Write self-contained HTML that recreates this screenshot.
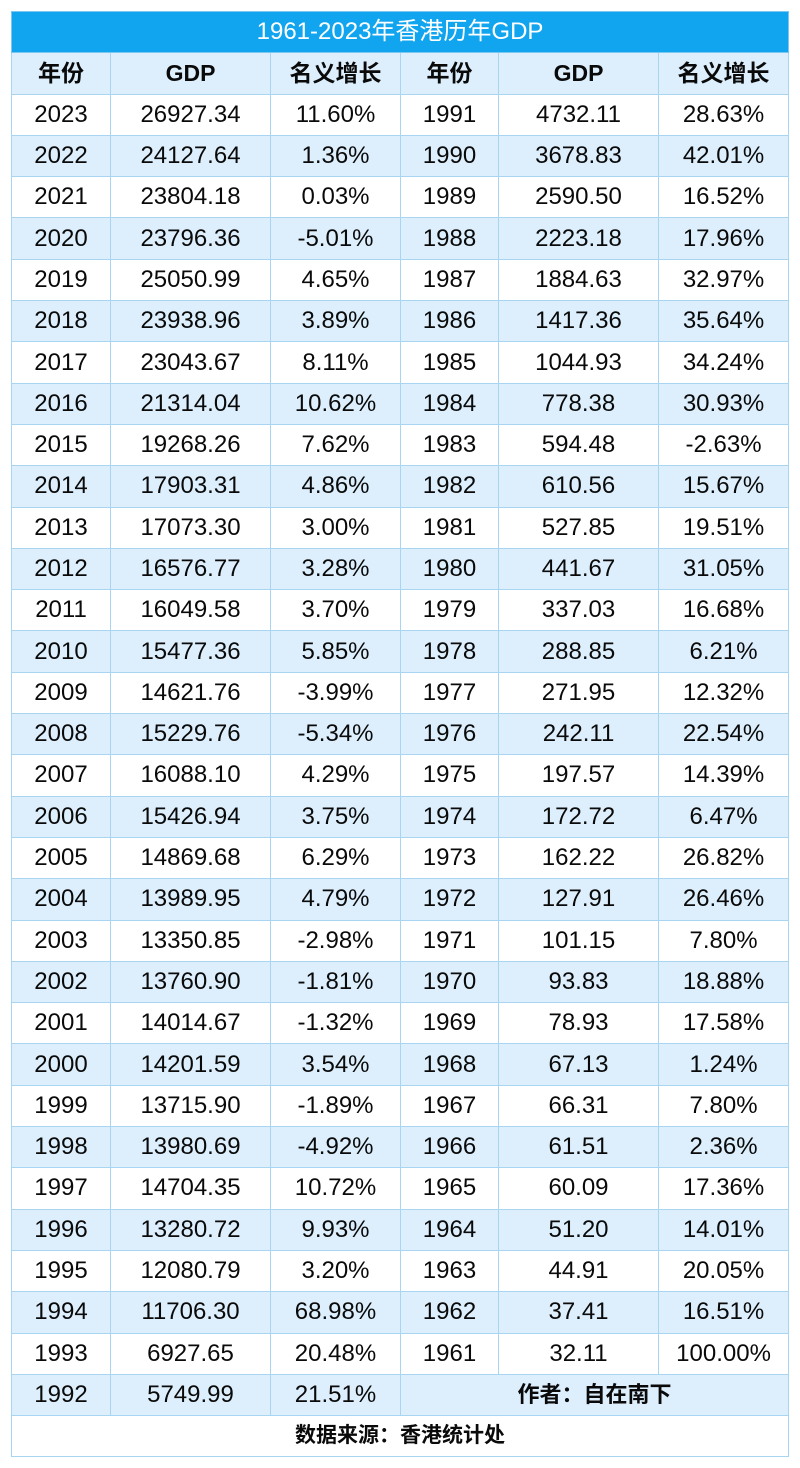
<!DOCTYPE html>
<html><head><meta charset="utf-8"><style>
html,body{margin:0;padding:0;background:#fff;width:800px;height:1468px;overflow:hidden}
table{position:absolute;left:11px;top:11px;width:777px;border-collapse:collapse;table-layout:fixed;font-family:"Liberation Sans","Noto Sans CJK SC",sans-serif;color:#0a0a0a}
td{border:1px solid #a8d5f2;height:40.3px;padding:0;text-align:center;font-size:24px;line-height:40px;white-space:nowrap;overflow:hidden}
tr.t td{background:#12a5ef;color:#fff;font-size:24px;border-color:#7cc6f0}
tr.h td{background:#ddeffc;font-weight:bold;font-size:23px}
tr.b td{background:#ddeffc}
tr.f td{background:#fff;font-size:21px;font-weight:bold}
td.a{font-weight:bold;font-size:22px}
</style></head><body>
<table>
<colgroup><col style="width:99px"><col style="width:160px"><col style="width:130px"><col style="width:98px"><col style="width:160px"><col style="width:130px"></colgroup>
<tr class="t"><td colspan="6">1961-2023年香港历年GDP</td></tr>
<tr class="h"><td>年份</td><td>GDP</td><td>名义增长</td><td>年份</td><td>GDP</td><td>名义增长</td></tr>
<tr><td>2023</td><td>26927.34</td><td>11.60%</td><td>1991</td><td>4732.11</td><td>28.63%</td></tr>
<tr class="b"><td>2022</td><td>24127.64</td><td>1.36%</td><td>1990</td><td>3678.83</td><td>42.01%</td></tr>
<tr><td>2021</td><td>23804.18</td><td>0.03%</td><td>1989</td><td>2590.50</td><td>16.52%</td></tr>
<tr class="b"><td>2020</td><td>23796.36</td><td>-5.01%</td><td>1988</td><td>2223.18</td><td>17.96%</td></tr>
<tr><td>2019</td><td>25050.99</td><td>4.65%</td><td>1987</td><td>1884.63</td><td>32.97%</td></tr>
<tr class="b"><td>2018</td><td>23938.96</td><td>3.89%</td><td>1986</td><td>1417.36</td><td>35.64%</td></tr>
<tr><td>2017</td><td>23043.67</td><td>8.11%</td><td>1985</td><td>1044.93</td><td>34.24%</td></tr>
<tr class="b"><td>2016</td><td>21314.04</td><td>10.62%</td><td>1984</td><td>778.38</td><td>30.93%</td></tr>
<tr><td>2015</td><td>19268.26</td><td>7.62%</td><td>1983</td><td>594.48</td><td>-2.63%</td></tr>
<tr class="b"><td>2014</td><td>17903.31</td><td>4.86%</td><td>1982</td><td>610.56</td><td>15.67%</td></tr>
<tr><td>2013</td><td>17073.30</td><td>3.00%</td><td>1981</td><td>527.85</td><td>19.51%</td></tr>
<tr class="b"><td>2012</td><td>16576.77</td><td>3.28%</td><td>1980</td><td>441.67</td><td>31.05%</td></tr>
<tr><td>2011</td><td>16049.58</td><td>3.70%</td><td>1979</td><td>337.03</td><td>16.68%</td></tr>
<tr class="b"><td>2010</td><td>15477.36</td><td>5.85%</td><td>1978</td><td>288.85</td><td>6.21%</td></tr>
<tr><td>2009</td><td>14621.76</td><td>-3.99%</td><td>1977</td><td>271.95</td><td>12.32%</td></tr>
<tr class="b"><td>2008</td><td>15229.76</td><td>-5.34%</td><td>1976</td><td>242.11</td><td>22.54%</td></tr>
<tr><td>2007</td><td>16088.10</td><td>4.29%</td><td>1975</td><td>197.57</td><td>14.39%</td></tr>
<tr class="b"><td>2006</td><td>15426.94</td><td>3.75%</td><td>1974</td><td>172.72</td><td>6.47%</td></tr>
<tr><td>2005</td><td>14869.68</td><td>6.29%</td><td>1973</td><td>162.22</td><td>26.82%</td></tr>
<tr class="b"><td>2004</td><td>13989.95</td><td>4.79%</td><td>1972</td><td>127.91</td><td>26.46%</td></tr>
<tr><td>2003</td><td>13350.85</td><td>-2.98%</td><td>1971</td><td>101.15</td><td>7.80%</td></tr>
<tr class="b"><td>2002</td><td>13760.90</td><td>-1.81%</td><td>1970</td><td>93.83</td><td>18.88%</td></tr>
<tr><td>2001</td><td>14014.67</td><td>-1.32%</td><td>1969</td><td>78.93</td><td>17.58%</td></tr>
<tr class="b"><td>2000</td><td>14201.59</td><td>3.54%</td><td>1968</td><td>67.13</td><td>1.24%</td></tr>
<tr><td>1999</td><td>13715.90</td><td>-1.89%</td><td>1967</td><td>66.31</td><td>7.80%</td></tr>
<tr class="b"><td>1998</td><td>13980.69</td><td>-4.92%</td><td>1966</td><td>61.51</td><td>2.36%</td></tr>
<tr><td>1997</td><td>14704.35</td><td>10.72%</td><td>1965</td><td>60.09</td><td>17.36%</td></tr>
<tr class="b"><td>1996</td><td>13280.72</td><td>9.93%</td><td>1964</td><td>51.20</td><td>14.01%</td></tr>
<tr><td>1995</td><td>12080.79</td><td>3.20%</td><td>1963</td><td>44.91</td><td>20.05%</td></tr>
<tr class="b"><td>1994</td><td>11706.30</td><td>68.98%</td><td>1962</td><td>37.41</td><td>16.51%</td></tr>
<tr><td>1993</td><td>6927.65</td><td>20.48%</td><td>1961</td><td>32.11</td><td>100.00%</td></tr>
<tr class="b"><td>1992</td><td>5749.99</td><td>21.51%</td><td colspan="3" class="a">作者：自在南下</td></tr>
<tr class="f"><td colspan="6">数据来源：香港统计处</td></tr>
</table>
</body></html>
